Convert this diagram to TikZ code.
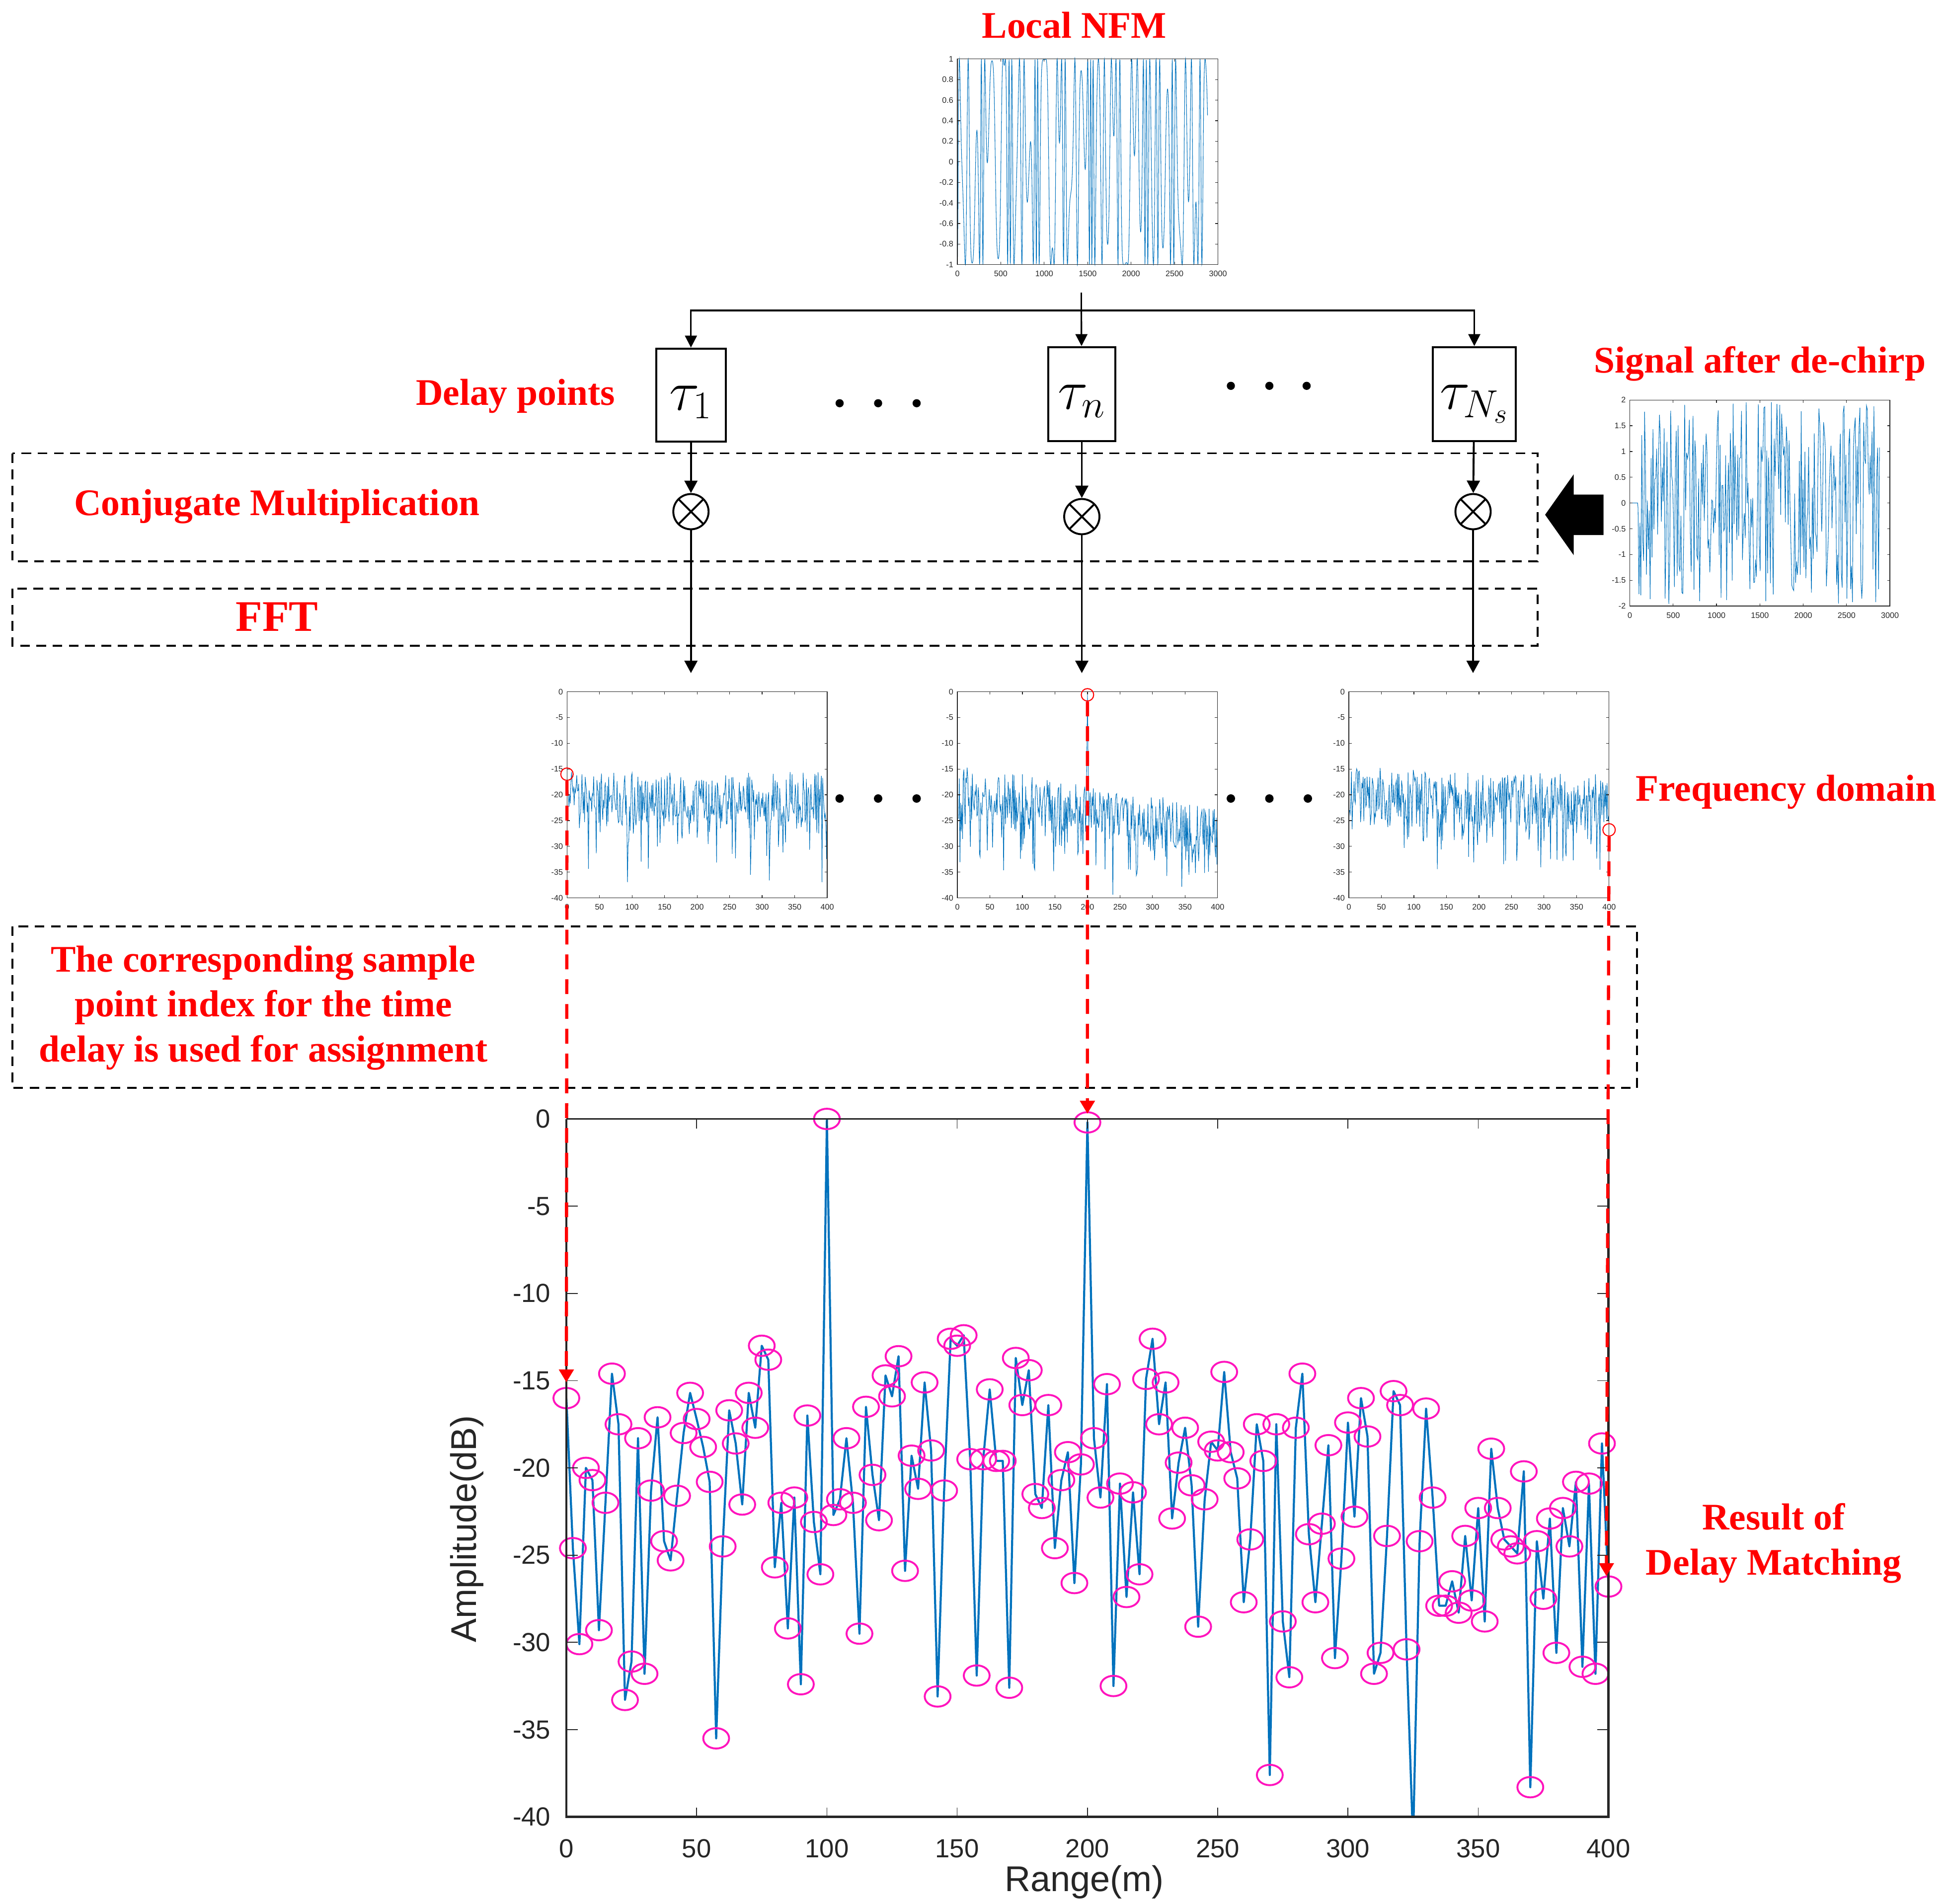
\RequirePackage{fix-cm}
\documentclass[tikz,border=0pt]{standalone}
\usepackage{fontspec}
\setmainfont{Liberation Serif}
\setsansfont{Liberation Sans}
\usetikzlibrary{arrows.meta}

\definecolor{matblue}{RGB}{0,114,189}
\definecolor{ringpink}{RGB}{255,20,189}
\definecolor{axgray}{RGB}{38,38,38}

\tikzset{
  redlbl/.style={text=red, font=\bfseries\fontsize{21.5}{25.8}\selectfont, align=center, inner sep=0pt},
  dbox/.style={draw, line width=1.1pt, dash pattern=on 5.5pt off 3.8pt},
  delay/.style={draw, line width=1.2pt, inner sep=0pt, text height=6mm, text depth=0pt, font=\fontsize{32}{38}\selectfont},
  mixer/.style={circle, draw, line width=1.1pt, minimum size=7.1mm, inner sep=0pt,
    path picture={\draw[line width=1.1pt] (path picture bounding box.north west) -- (path picture bounding box.south east)
      (path picture bounding box.north east) -- (path picture bounding box.south west);}},
  wire/.style={line width=0.9pt},
  arrowed/.style={-{Triangle[length=2.4mm, width=2.4mm]}},
  feed/.style={line width=1.1pt, -{Triangle[length=2.5mm, width=2.6mm]}},
  match/.style={red, line width=1.8pt, dash pattern=on 8.5pt off 5.7pt, -{Triangle[length=2.6mm, width=2.9mm]}},
  spot/.style={circle, draw=red, line width=0.6pt, minimum size=2.5mm, inner sep=0pt},
  boxline/.style={draw=axgray, line width=0.35pt},
  minilbl/.style={text=axgray, font=\sffamily\fontsize{4.6}{5}\selectfont, inner sep=0pt},
  sig/.style={matblue, line width=0.3pt},
  trace/.style={matblue, line width=1.2pt, line join=round},
  ring/.style={draw=ringpink, line width=1.1pt},
  ticklbl/.style={text=axgray, font=\sffamily\fontsize{15}{18}\selectfont, inner sep=0pt},
  axlbl/.style={text=axgray, font=\sffamily\fontsize{20.5}{24}\selectfont, inner sep=0pt}
}

% small matlab-like axes: x max, y min, y max, x ticks, y ticks
\newcommand{\miniaxes}[5]{%
  \draw[boxline] (0,#2) rectangle (#1,#3);
  \foreach \tk in {#4} {
    \draw[boxline] (\tk,#2) -- ++(0,0.55mm) (\tk,#3) -- ++(0,-0.55mm);
    \node[minilbl, anchor=north] at ([yshift=-1.2mm]\tk,#2) {\tk};
  }
  \foreach \tk in {#5} {
    \draw[boxline] (0,\tk) -- ++(0.55mm,0) (#1,\tk) -- ++(-0.55mm,0);
    \node[minilbl, anchor=east] at ([xshift=-0.75mm]0,\tk) {\tk};
  }
}

% delay matching result, one value every 2.5 m
\def\rangedata{-16.0,-24.6,-30.1,-20.0,-20.7,-29.3,-22.0,-14.6,-17.5,-33.3,
-31.1,-18.3,-31.8,-21.3,-17.1,-24.2,-25.3,-21.6,-18.0,-15.7,
-17.2,-18.8,-20.8,-35.5,-24.5,-16.7,-18.6,-22.1,-15.7,-17.7,
-13.0,-13.8,-25.7,-22.0,-29.2,-21.7,-32.4,-17.0,-23.1,-26.1,
0,-22.7,-21.8,-18.3,-22.0,-29.5,-16.5,-20.4,-23.0,-14.7,
-15.9,-13.6,-25.9,-19.3,-21.2,-15.1,-19.0,-33.1,-21.3,-12.6,
-13.0,-12.4,-19.5,-31.9,-19.5,-15.5,-19.6,-19.6,-32.6,-13.7,
-16.4,-14.4,-21.5,-22.3,-16.4,-24.6,-20.7,-19.1,-26.6,-19.8,
-0.2,-18.3,-21.7,-15.2,-32.5,-20.9,-27.4,-21.4,-26.1,-14.9,
-12.6,-17.5,-15.1,-22.9,-19.7,-17.7,-21.0,-29.1,-21.8,-18.5,
-19.0,-14.5,-19.1,-20.6,-27.7,-24.1,-17.5,-19.6,-37.6,-17.5,
-28.8,-32.0,-17.7,-14.6,-23.8,-27.7,-23.2,-18.7,-30.9,-25.2,
-17.4,-22.8,-16.0,-18.2,-31.8,-30.6,-23.9,-15.6,-16.4,-30.4,
-41.5,-24.2,-16.6,-21.7,-27.9,-27.9,-26.5,-28.3,-23.9,-27.6,
-22.3,-28.8,-18.9,-22.3,-24.1,-24.5,-24.9,-20.2,-38.3,-24.2,
-27.5,-22.9,-30.6,-22.3,-24.5,-20.8,-31.4,-20.9,-31.8,-18.6,-26.8}

\begin{document}
\begin{tikzpicture}[x=0.25mm, y=-0.25mm]
\useasboundingbox (0,0) rectangle (1567.6,1532.8);

% dashed stages
\draw[dbox] (10,365) rectangle (1238,452);
\draw[dbox] (10,474) rectangle (1238,520);
\draw[dbox] (10,746) rectangle (1318,876);

% local NFM
\node[redlbl, anchor=base] (nfmtitle) at (865,30.6) {Local NFM};
\begin{scope}[shift={(770.8,130.3)}, x=0.017483mm, y=20.7mm]
  \draw[sig] plot[domain=0:2880, samples=1500] (\x, {cos(mod(3.6*\x,360) + 260*sin(0.47*\x) + 180*sin(1.13*\x+20) + 120*sin(2.3*\x+70))});
  \miniaxes{3000}{-1}{1}{0,500,...,3000}{-1,-0.8,-0.6,-0.4,-0.2,0,0.2,0.4,0.6,0.8,1}
\end{scope}

% signal after de-chirp
\node[redlbl, anchor=base] (dechirptitle) at (1417,300) {Signal after de-chirp};
\begin{scope}[shift={(1312.2,405.05)}, x=0.01745mm, y=10.369mm]
  \pgfmathsetseed{5}
  \draw[sig] (0,0) -- (90,0) -- plot[domain=95:2880, samples=260] (\x, {1.97*rand});
  \miniaxes{3000}{-2}{2}{0,500,...,3000}{-2,-1.5,-1,-0.5,0,0.5,1,1.5,2}
\end{scope}
\fill (1244,414.5) -- (1267,382) -- (1267,398.2) -- (1291,398.2) -- (1291,430.8) -- (1267,430.8) -- (1267,447) -- cycle;

% delay bank
\node[redlbl, anchor=base] (delaylbl) at (415,326) {Delay points};
\node[delay, minimum width=14mm, minimum height=18.75mm] (tau1) at (556.3,318.2) {$\tau_1$};
\node[delay, minimum width=13.5mm, minimum height=18.9mm] (taun) at (871,317.3) {$\tau_n$};
\node[delay, minimum width=16.65mm, minimum height=18.9mm] (tauN) at (1187,317.3) {$\tau_{N_s}$};
\foreach \px in {676,707,738} \fill (\px,324.7) circle (0.82mm);
\foreach \px in {991,1022,1052} \fill (\px,310.7) circle (0.82mm);

\coordinate (nfmout) at (870.6,235.7);
\coordinate (split) at (870.6,250);
\draw[wire] (nfmout) -- (split);
\draw[wire, arrowed] (split) -| (tau1);
\draw[wire, arrowed] (split) -- (taun);
\draw[wire, arrowed] (split) -| (tauN);

% conjugate multiplication and FFT
\node[redlbl, anchor=base] (conjlbl) at (223,415) {Conjugate Multiplication};
\node[redlbl, anchor=base, font=\bfseries\fontsize{25}{30}\selectfont] (fftlbl) at (223,508) {FFT};
\node[mixer] (mix1) at (556.3,412) {};
\node[mixer] (mix2) at (871,416) {};
\node[mixer] (mix3) at (1186,412) {};
\coordinate (spec1) at (556.3,542);
\coordinate (spec2) at (871,542);
\coordinate (spec3) at (1186,542);
\draw[feed] (tau1) -- (mix1);
\draw[feed] (taun) -- (mix2);
\draw[feed] (tauN) -- (mix3);
\draw[feed] (mix1) -- (spec1);
\draw[feed] (mix2) -- (spec2);
\draw[feed] (mix3) -- (spec3);

% frequency domain
\node[redlbl, anchor=base] (freqlbl) at (1438,645) {Frequency domain};
\begin{scope}[shift={(456.5,557)}, x=0.13094mm, y=1.0375mm]
  \begin{scope}
    \clip (0,0) rectangle (400,-40);
    \pgfmathsetseed{11}
    \draw[sig] plot[domain=1:400, samples=400] (\x, {-20.5 + 5*rand - 12*rnd^6});
  \end{scope}
  \miniaxes{400}{-40}{0}{0,50,...,400}{0,-5,...,-40}
  \node[spot] (spot1) at (0,-16) {};
\end{scope}
\begin{scope}[shift={(770.8,557)}, x=0.13094mm, y=1.0375mm]
  \begin{scope}
    \clip (0,0) rectangle (400,-40);
    \pgfmathsetseed{23}
    \draw[sig] plot[domain=1:198, samples=198] (\x, {-19 - 0.02*\x + 5*rand - 12*rnd^6})
      -- (200,-0.6) -- plot[domain=202:400, samples=199] (\x, {-19 - 0.02*\x + 5*rand - 12*rnd^6});
  \end{scope}
  \miniaxes{400}{-40}{0}{0,50,...,400}{0,-5,...,-40}
  \node[spot] (spot2) at (200,-0.6) {};
\end{scope}
\begin{scope}[shift={(1086,557)}, x=0.13094mm, y=1.0375mm]
  \begin{scope}
    \clip (0,0) rectangle (400,-40);
    \pgfmathsetseed{37}
    \draw[sig] plot[domain=1:400, samples=400] (\x, {-19.5 - 0.004*\x + 5*rand - 12*rnd^6});
  \end{scope}
  \miniaxes{400}{-40}{0}{0,50,...,400}{0,-5,...,-40}
  \node[spot] (spot3) at (400,-26.8) {};
\end{scope}
\foreach \px in {676,707,738,991,1022,1053} \fill (\px,643) circle (0.85mm);

% assignment
\node[redlbl, anchor=base] (assignlbl) at (212,855) {The corresponding sample\\point index for the time\\delay is used for assignment};
\node[redlbl, anchor=base] (resultlbl) at (1428,1268) {Result of\\Delay Matching};

% result of delay matching
\begin{scope}[shift={(456,901)}, x=0.52438mm, y=3.5125mm]
  \begin{scope}
    \clip (0,0) rectangle (400,-40);
    \draw[trace] (0,-16) \foreach \val [count=\idx from 0] in \rangedata { -- ({2.5*\idx},\val) };
  \end{scope}
  \foreach \val [count=\idx from 0] in \rangedata {
    \ifdim\val pt>-40pt \draw[ring] ({2.5*\idx},\val) ellipse [x radius=2.6mm, y radius=2.05mm]; \fi
  }
  \draw[axgray, line width=0.7pt] (0,0) -- (400,0);
  \draw[axgray, line width=1.3pt] (0,0) -- (0,-40) -- (400,-40) -- (400,0);
  \foreach \tk in {0,-5,...,-40} {
    \draw[axgray, line width=0.5pt] (0,\tk) -- ++(2.25mm,0) (400,\tk) -- ++(-2.25mm,0);
    \node[ticklbl, anchor=east] at ([xshift=-3.1mm]0,\tk) {\tk};
  }
  \foreach \tk in {0,50,...,400} {
    \draw[axgray, line width=0.5pt] (\tk,-40) -- ++(0,1.9mm) (\tk,0) -- ++(0,-1.9mm);
    \node[ticklbl, anchor=north] at ([yshift=-4.4mm]\tk,-40) {\tk};
  }
  \node[axlbl, rotate=90] (ylbl) at (-38.1,-23.5) {Amplitude(dB)};
  \node[axlbl] (xlbl) at (198.8,-43.75) {Range(m)};
  \coordinate (land1) at (0,-15.1);
  \coordinate (land2) at (200,0.3);
  \coordinate (land3) at (399.2,-26.2);
\end{scope}

% sample index used for the assignment
\draw[match] (spot1) -- (land1);
\draw[match] (spot2) -- (land2);
\draw[match] (spot3) -- (land3);
\end{tikzpicture}
\end{document}
